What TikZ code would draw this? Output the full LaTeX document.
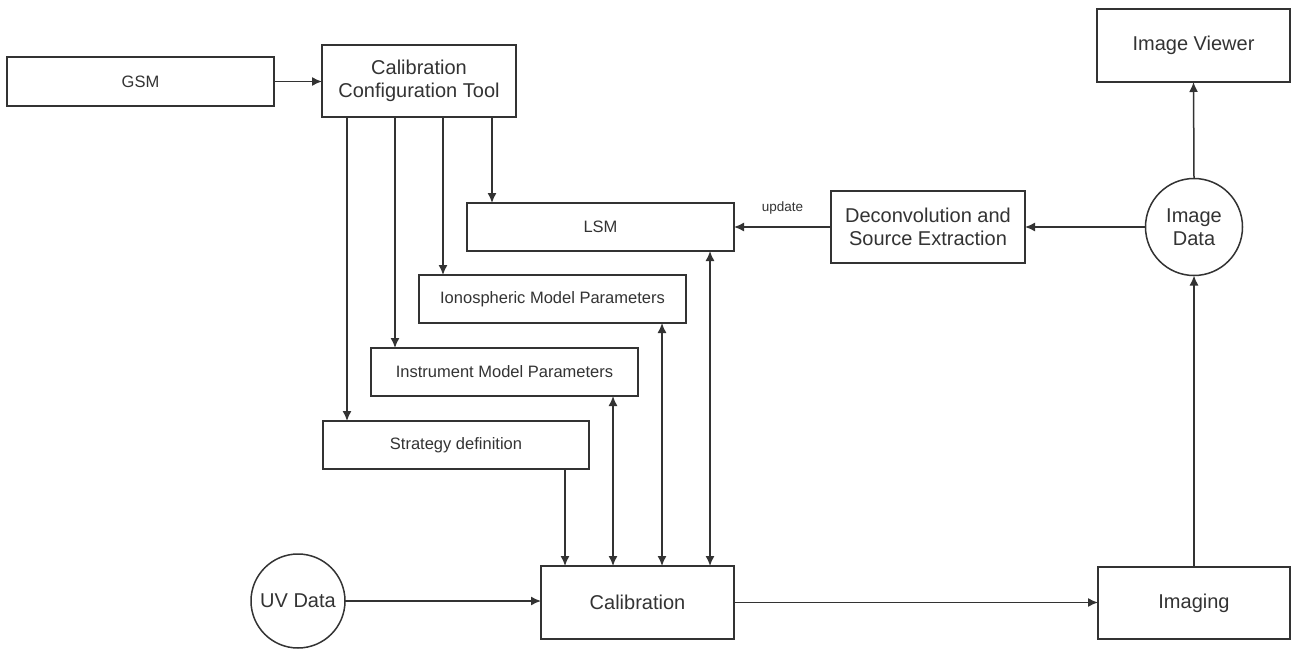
\documentclass[tikz,border=0pt]{standalone}
\usepackage{fontspec}
\setmainfont{Liberation Sans}
\usetikzlibrary{arrows.meta}
\begin{document}
\begin{tikzpicture}[x=1pt,y=-1pt,
  every node/.style={inner sep=0pt,outer sep=0pt,text=black!80},
  box/.style={draw=black!80,line width=1.5pt,fill=white,align=center},
  bigbox/.style={box,font=\fontsize{20}{23}\selectfont},
  smallbox/.style={box,font=\fontsize{16.5}{19}\selectfont},
  circ/.style={draw=black!80,line width=1.5pt,circle,align=center,font=\fontsize{20}{23}\selectfont},
  arr/.style={draw=black!80,line width=1.5pt,-{Latex[length=10pt,width=9pt]}},
  darr/.style={draw=black!80,line width=1.5pt,{Latex[length=10pt,width=9pt]}-{Latex[length=10pt,width=9pt]}},
  lbl/.style={font=\fontsize{13.5}{16}\selectfont,text=black!80}]
\useasboundingbox (0,0) rectangle (1291,650);
\fill[white] (0,0) rectangle (1291,650);
% nodes
\node[smallbox,minimum width=267pt,minimum height=49pt] (gsm) at (140.5,81.5) {GSM};
\node[bigbox,minimum width=194pt,minimum height=72pt] (cct) at (419,81) {Calibration\\Configuration Tool};
\node[smallbox,minimum width=267pt,minimum height=48pt] (lsm) at (600.5,227) {LSM};
\node[smallbox,minimum width=267pt,minimum height=48pt] (iono) at (552.5,299) {Ionospheric Model Parameters};
\node[smallbox,minimum width=267pt,minimum height=48pt] (instr) at (504.5,372) {Instrument Model Parameters};
\node[smallbox,minimum width=266pt,minimum height=48pt] (strat) at (456,445) {Strategy definition};
\node[bigbox,minimum width=194pt,minimum height=72pt] (deconv) at (928,227) {Deconvolution and\\Source Extraction};
\node[bigbox,minimum width=193pt,minimum height=73pt] (viewer) at (1193.5,45.5) {Image Viewer};
\node[circ,minimum size=97pt] (imgdata) at (1194,227) {Image\\Data};
\node[circ,minimum size=94pt] (uv) at (298,601) {UV Data};
\node[bigbox,minimum width=193pt,minimum height=73pt] (calib) at (637.5,602.5) {Calibration};
\node[bigbox,minimum width=192pt,minimum height=72pt] (imaging) at (1194,603) {Imaging};
% columns
\coordinate (c1) at (347,0);
\coordinate (c2) at (395,0);
\coordinate (c3) at (443,0);
\coordinate (c4) at (492,0);
\coordinate (d1) at (565,0);
\coordinate (d2) at (613,0);
\coordinate (d3) at (662,0);
\coordinate (d4) at (710,0);
% connectors
\draw[arr] (gsm.east) -- (cct.west |- gsm.east);
\draw[arr] (cct.south -| c1) -- (strat.north -| c1);
\draw[arr] (cct.south -| c2) -- (instr.north -| c2);
\draw[arr] (cct.south -| c3) -- (iono.north -| c3);
\draw[arr] (cct.south -| c4) -- (lsm.north -| c4);
\draw[arr] (strat.south -| d1) -- (calib.north -| d1);
\draw[darr] (instr.south -| d2) -- (calib.north -| d2);
\draw[darr] (iono.south -| d3) -- (calib.north -| d3);
\draw[darr] (lsm.south -| d4) -- (calib.north -| d4);
\draw[arr] (uv.east) -- (calib.west |- uv.east);
\draw[arr] (calib.east) -- (imaging.west |- calib.east);
\draw[arr] (imaging.north) -- (imgdata.south);
\draw[arr] (imgdata.north) -- (viewer.south);
\draw[arr] (imgdata.west) -- (deconv.east |- imgdata.west);
\draw[arr] (deconv.west) -- (lsm.east |- deconv.west) node[lbl,midway,above=13pt] (upd) {update};
\end{tikzpicture}
\end{document}
